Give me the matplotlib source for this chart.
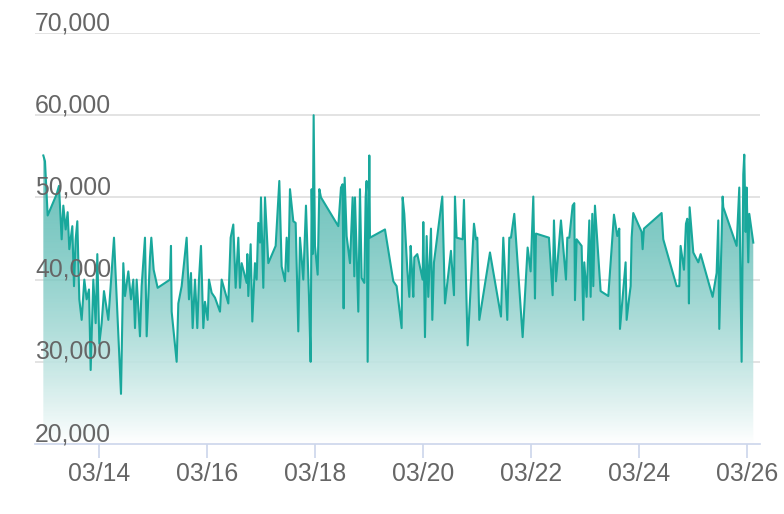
import numpy as np
import matplotlib
matplotlib.use("Agg")
import matplotlib.pyplot as plt
from matplotlib.patches import Polygon
from matplotlib.colors import LinearSegmentedColormap

# hours since 03/13 00:00
hours = [-0.74, 0.0, 1.19, 5.19, 6.22, 7.41, 8.15, 9.19, 10.07, 10.81, 12.15, 12.89, 13.63, 14.37, 15.26, 16.3,
         17.48, 18.52, 19.56, 20.3, 21.48, 22.52, 23.26, 24.15, 25.19, 26.22, 28.15, 30.67, 33.78, 34.81, 35.56,
         37.04, 38.22, 39.26, 40.0, 40.74, 42.22, 42.96, 44.44, 45.19, 46.67, 47.26, 48.3, 50.07, 55.56, 56.0,
         56.3, 58.52, 59.26, 60.74, 62.96, 64.0, 64.89, 65.63, 66.67, 67.7, 68.44, 69.33, 70.37, 71.11, 72.3,
         72.89, 74.07,
         75.56, 77.78, 78.52, 81.48, 82.52, 83.7, 84.74, 85.93, 86.67, 87.41, 89.63, 89.93, 90.37, 91.41, 92.15,
         93.33, 94.07, 94.81, 95.56, 96.0, 97.04, 97.78, 99.26, 102.52, 104.15, 105.19, 106.67, 107.41, 108.15,
         108.89, 110.37, 111.41, 112.59, 113.33, 114.81, 116.0, 117.33, 118.07, 118.52, 118.96, 119.41, 120.0,
         121.19, 121.93, 122.67, 130.37, 131.56, 132.3, 132.74, 133.19, 134.07, 135.56, 136.74, 137.48, 137.78,
         139.26, 140.0, 140.74, 141.93, 142.52, 142.96, 143.41, 144.15, 144.44, 151.11, 154.81, 156.3, 158.52,
         158.96,
         159.7, 161.04, 161.93, 162.52, 163.11, 163.7, 164.15, 165.48, 167.85, 168.15, 168.89, 169.63, 170.37,
         171.56, 172.15, 172.89, 176.59, 177.78, 180.44, 181.78, 182.22, 182.96, 185.63, 186.22, 187.85, 190.67,
         191.56, 192.15, 193.04, 197.78, 202.67, 203.7, 205.48, 206.37, 207.11, 208.59, 212.3, 214.52, 215.85,
         217.04, 217.78, 218.22, 224.0, 225.63, 226.22, 227.11, 229.33, 231.56, 232.15, 233.04, 234.52, 235.26,
         235.56, 236.3, 238.52, 239.26, 239.7, 240.74,
         241.93, 242.52, 243.26, 243.7, 244.44, 246.96, 250.37, 252.89, 254.37, 255.26, 255.56, 258.07, 258.52,
         259.7, 260.3, 260.74, 261.48, 265.19, 265.63, 266.22, 274.07, 274.81, 280.74, 281.93, 282.52, 284.0,
         284.89, 285.48, 285.93, 286.22, 286.52, 287.41, 288.15, 290.37, 291.41, 296.74, 298.52, 299.26, 299.7,
         301.19, 301.48, 307.41, 308.59, 309.63, 310.37, 310.81, 311.41, 311.85, 312.59, 313.04, 314.81]

values_k = [55.1, 54.4, 47.8, 50.4, 51.4, 44.9, 49.0, 46.1, 48.2, 43.7, 46.5, 39.2, 44.9, 47.1, 37.6, 35.1,
            40.0, 37.6, 38.8, 29.0, 40.0, 34.7, 43.1, 32.2, 34.7, 38.6, 35.1, 45.1, 26.1, 42.0, 38.0,
            41.0, 37.6, 40.0, 34.1, 40.0, 33.1, 39.2, 45.1, 33.1, 42.7, 45.1, 41.2, 39.0, 40.0, 44.1,
            36.1, 30.0, 37.1, 39.2, 45.1, 37.6, 40.8, 34.1, 40.0, 34.1, 40.0, 44.1, 34.1, 37.3, 35.1,
            40.0, 38.4,
            37.8, 36.1, 40.0, 37.1, 45.1, 46.7, 39.0, 45.1, 39.0, 42.0, 39.6, 43.1, 38.0, 44.3, 34.9,
            42.0, 40.0, 46.9, 44.5, 50.0, 39.0, 50.0, 42.0, 44.1, 52.0, 41.6, 39.8, 45.1, 41.0,
            51.0, 47.1, 46.9, 33.7, 45.1, 40.0, 49.0, 38.0, 30.0, 51.0, 43.1, 60.0, 44.1,
            40.6, 51.0, 50.0, 46.5, 51.2, 51.6, 36.5, 52.4, 45.3, 42.0, 50.0, 40.4, 50.0,
            36.1, 51.0, 40.2, 39.6, 50.0, 52.0, 30.0, 55.1, 45.1, 46.1, 39.8, 39.2, 34.1,
            50.0,
            48.0, 41.2, 37.9, 44.1, 41.2, 37.9, 42.7, 43.1, 40.0, 47.0, 33.0, 45.3, 37.9,
            46.2, 35.1, 42.1, 50.1, 37.1, 43.5, 38.1, 50.1, 45.1, 44.9, 49.7, 32.0, 46.8,
            44.9, 45.1, 35.1, 43.3, 35.5, 45.1, 35.1, 45.1, 45.1, 48.0, 33.0, 43.9, 41.0,
            50.1, 37.7, 45.6, 45.1, 38.1, 47.2, 39.8, 47.2, 40.0, 45.1, 45.1, 49.0, 49.3,
            37.5, 44.9, 44.1, 35.1, 42.1, 37.9,
            47.2, 37.9, 48.0, 39.2, 49.0, 38.6, 38.0, 47.9, 45.3, 46.2, 34.0, 42.1, 35.1,
            37.9, 39.2, 45.1, 48.1, 45.8, 43.7, 46.2, 48.1, 44.9, 39.2, 39.2, 44.1, 41.2,
            46.8, 47.4, 43.7, 37.1, 48.8, 45.8, 43.3, 42.1, 43.1, 37.9, 40.8, 47.2, 34.0,
            50.1, 48.8, 44.1, 51.2, 30.0, 52.8, 55.2, 45.8, 51.2, 42.1, 48.0, 44.5]

y_ticks = [20000, 30000, 40000, 50000, 60000, 70000]
x_tick_labels = ["03/14", "03/16", "03/18", "03/20", "03/22", "03/24", "03/26"]

x = np.array(hours)
y = np.array(values_k) * 1000

W, H = 784, 514
fig = plt.figure(figsize=(W / 100, H / 100), dpi=100)
left, right, top, bottom = 35, 760, 33, 444
ax = fig.add_axes([left / W, 1 - bottom / H, (right - left) / W, (bottom - top) / H])
xmin, xmax = -4.44, 317.8
ymin, ymax = 20000, 70000
ax.set_xlim(xmin, xmax)
ax.set_ylim(ymin, ymax)

line_color = "#19a89c"
grad = np.linspace(0, 1, 256).reshape(-1, 1)
cmap = LinearSegmentedColormap.from_list("g", [(1, 1, 1, 1), (0.09, 0.62, 0.58, 0.65)])
gtop = 55500
im = ax.imshow(grad, extent=[xmin, xmax, ymin, gtop], origin="lower", aspect="auto", cmap=cmap,
               zorder=1, vmin=0, vmax=1)
poly = Polygon(np.column_stack([np.r_[x[0], x, x[-1]], np.r_[ymin, y, ymin]]), closed=True,
               facecolor="none", edgecolor="none")
ax.add_patch(poly)
im.set_clip_path(poly)
ax.plot(x, y, color=line_color, lw=1.5, zorder=3)

for t in y_ticks:
    if t > ymin:
        ax.axhline(t, color="#e0e0e0", lw=1.3, zorder=0)
    ax.text(0, t - 250, f"{t:,}", transform=ax.get_yaxis_transform(), ha="left", va="bottom",
            fontsize=17.8, color="#666666", family="Liberation Sans", zorder=4)

for s in ["top", "right", "left"]:
    ax.spines[s].set_visible(False)
ax.spines["bottom"].set_color("#ccd6eb")
ax.spines["bottom"].set_linewidth(1.2)
ax.set_yticks([])
xt = [24 + 48 * i for i in range(len(x_tick_labels))]
ax.set_xticks(xt)
ax.set_xticklabels(x_tick_labels, fontsize=17.8, color="#666666", family="Liberation Sans")
ax.tick_params(axis="x", length=10, color="#ccd6eb", width=1.2, pad=3)

fig.savefig("out.png", dpi=100)
